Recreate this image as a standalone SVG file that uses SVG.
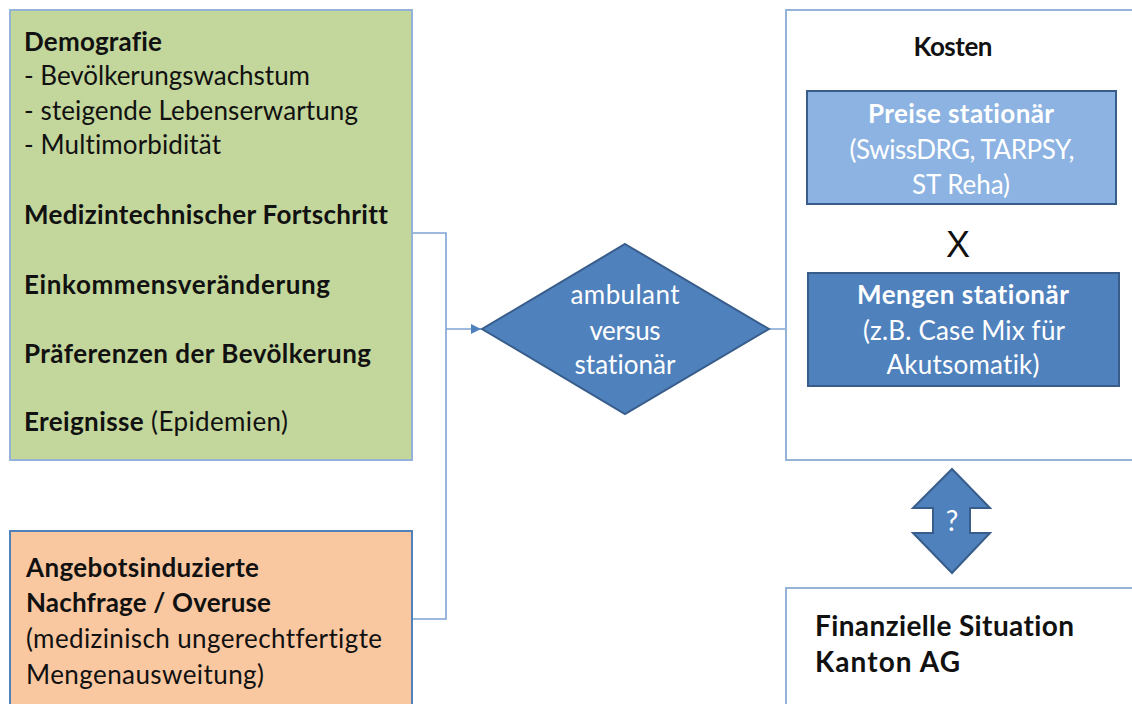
<svg xmlns="http://www.w3.org/2000/svg" width="1132" height="704" viewBox="0 0 1132 704">
<style>
text{font-family:Lato,"Liberation Sans",sans-serif;font-size:26px;fill:#111;font-variant-ligatures:none;font-feature-settings:"liga" 0,"clig" 0}
.b{font-weight:bold}
.w{fill:#fff}
.c{text-anchor:middle}
.big{font-size:28px}
.q{font-size:28px}
.outer{fill:#fff;stroke:#95b3d7;stroke-width:2}
.conn{fill:none;stroke:#7ea3d3;stroke-width:1.6}
.dark{stroke:#385d8a;stroke-width:2}
</style>
<defs>
<marker id="ah" viewBox="0 0 10 10" refX="10" refY="5" markerWidth="10" markerHeight="10" orient="auto" markerUnits="userSpaceOnUse" style="overflow:visible">
<path d="M0,0 L10,5 L0,10 z" fill="#4f81bd"/>
</marker>
</defs>
<rect width="1132" height="704" fill="#fff"/>
<g id="connectors">
<path class="conn" d="M412,233 H446 V619 H412"/>
<path class="conn" d="M446,329 H481" marker-end="url(#ah)"/>
<path class="conn" d="M769,329 H807" marker-end="url(#ah)"/>
</g>
<g id="demografie">
<rect x="10" y="10" width="402" height="450" fill="#c3d69b" stroke="#95b3d7" stroke-width="2"/>
<text x="24" y="51" class="b" textLength="138">Demografie</text>
<text x="24" y="85" textLength="286">- Bevölkerungswachstum</text>
<text x="24" y="120" textLength="334">- steigende Lebenserwartung</text>
<text x="24" y="154" textLength="197">- Multimorbidität</text>
<text x="24" y="224" class="b" textLength="364">Medizintechnischer Fortschritt</text>
<text x="24" y="294" class="b" textLength="306">Einkommensveränderung</text>
<text x="24" y="363" class="b" textLength="347">Präferenzen der Bevölkerung</text>
<text x="24" y="431" textLength="264"><tspan class="b">Ereignisse</tspan> (Epidemien)</text>
</g>
<g id="angebot">
<rect x="10" y="531" width="402" height="190" fill="#fac8a0" stroke="#4f81bd" stroke-width="2"/>
<text x="26" y="577" class="b" textLength="233">Angebotsinduzierte</text>
<text x="26" y="612" class="b" textLength="245">Nachfrage / Overuse</text>
<text x="26" y="648" textLength="356">(medizinisch ungerechtfertigte</text>
<text x="26" y="684" textLength="238">Mengenausweitung)</text>
</g>
<g id="entscheidung">
<polygon points="625,244 769,329 625,414 482,329" fill="#4f81bd" class="dark"/>
<text x="625" y="304" class="w c" textLength="109">ambulant</text>
<text x="625" y="340" class="w c" textLength="71">versus</text>
<text x="625" y="374" class="w c" textLength="101">stationär</text>
</g>
<g id="kosten">
<rect x="786" y="10" width="360" height="450" class="outer"/>
<text x="953" y="56" class="b c" textLength="79">Kosten</text>
</g>
<g id="preise">
<rect x="807" y="91" width="309" height="113" fill="#8db3e2" class="dark"/>
<text x="961" y="123" class="b w c" textLength="186">Preise stationär</text>
<text x="962" y="159" class="w c" textLength="225">(SwissDRG, TARPSY,</text>
<text x="961" y="194" class="w c" textLength="98">ST Reha)</text>
</g>
<g id="mal">
<text x="958" y="257" class="c" style="font-size:36px;font-family:'Liberation Sans',sans-serif">X</text>
</g>
<g id="mengen">
<rect x="808" y="273" width="311" height="113" fill="#4f81bd" class="dark"/>
<text x="963" y="304" class="b w c" textLength="212">Mengen stationär</text>
<text x="964" y="340" class="w c" textLength="202">(z.B. Case Mix für</text>
<text x="963" y="374" class="w c" textLength="153">Akutsomatik)</text>
</g>
<g id="doppelpfeil">
<polygon points="952,469 990,508 970,508 970,533 990,533 952,573 913,533 933,533 933,508 913,508" fill="#4f81bd" class="dark" stroke-linejoin="miter"/>
<text x="952" y="531" class="w c q">?</text>
</g>
<g id="finanzen">
<rect x="786" y="588" width="360" height="140" class="outer"/>
<text x="815" y="636" class="b big" textLength="259">Finanzielle Situation</text>
<text x="815" y="672" class="b big" textLength="145">Kanton AG</text>
</g>
</svg>
